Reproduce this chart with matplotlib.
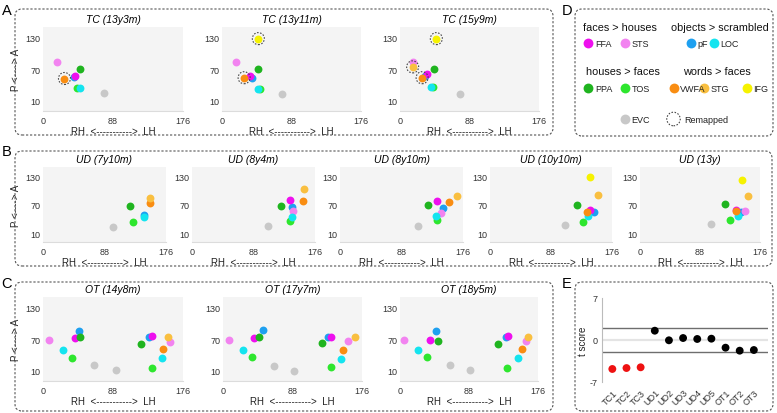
import matplotlib
matplotlib.use("Agg")
import matplotlib.pyplot as plt
from matplotlib.patches import FancyBboxPatch
from matplotlib.transforms import IdentityTransform

plt.rcParams['font.family'] = ['Liberation Sans', 'DejaVu Sans']

W, H = 777, 414

# ---------------- data ----------------
COLORS = {
    "FFA": "#ee10ee", "STS": "#f283f0", "pF": "#1ea0f0", "LOC": "#14e4ef",
    "PPA": "#1fb41f", "TOS": "#2ee62e", "VWFA": "#f98d12", "STG": "#f9bf40",
    "IFG": "#f6f200", "EVC": "#c8c8c8",
}
DRAW_ORDER = ["EVC", "pF", "FFA", "STS", "PPA", "TOS", "LOC", "VWFA", "STG", "IFG"]

# Panel A (TC)
tc_titles = ["TC (13y3m)", "TC (13y11m)", "TC (15y9m)"]
tc1_roi = ["STS", "PPA", "FFA", "pF", "VWFA", "TOS", "LOC", "EVC"]
tc1_x = [17, 46, 40, 39, 27, 43, 47, 77]
tc1_y = [84, 70, 58, 55.5, 52.5, 34, 35, 24.5]
tc1_remap = ["VWFA"]
tc2_roi = ["IFG", "STS", "PPA", "FFA", "pF", "VWFA", "TOS", "LOC", "EVC"]
tc2_x = [46, 18, 45.5, 36, 38.5, 28, 47.5, 45.5, 76]
tc2_y = [128, 83, 70.5, 56.5, 54, 54, 32.5, 32, 22.5]
tc2_remap = ["IFG", "VWFA"]
tc3_roi = ["IFG", "STS", "STG", "PPA", "FFA", "pF", "VWFA", "TOS", "LOC", "EVC"]
tc3_x = [46, 16, 16, 43, 34, 32, 28, 41.5, 39, 76]
tc3_y = [128, 83, 74.5, 71, 60.5, 57, 54, 35.5, 35.5, 23]
tc3_remap = ["IFG", "STG", "VWFA"]

# Panel B (UD)
ud_titles = ["UD (7y10m)", "UD (8y4m)", "UD (8y10m)", "UD (10y10m)", "UD (13y)"]
ud1_roi = ["STG", "VWFA", "PPA", "pF", "LOC", "TOS", "EVC"]
ud1_x = [153, 153.5, 124.5, 144.5, 144.5, 129, 99.5]
ud1_y = [85, 74.5, 66.5, 47.5, 43, 32.5, 23]
ud2_roi = ["STG", "VWFA", "FFA", "PPA", "pF", "STS", "LOC", "TOS", "EVC"]
ud2_x = [160.5, 159, 140.5, 127, 143.5, 145, 143.5, 140.5, 109]
ud2_y = [103, 77.5, 80, 68, 65, 56.5, 44.5, 36.5, 25]
ud3_roi = ["STG", "VWFA", "FFA", "PPA", "pF", "STS", "LOC", "TOS", "EVC"]
ud3_x = [167, 155.5, 139, 126, 148, 144.5, 137, 139, 111]
ud3_y = [89, 75.5, 77, 68.5, 62.5, 53.5, 46.5, 37, 25.5]
ud4_roi = ["IFG", "STG", "PPA", "FFA", "VWFA", "pF", "LOC", "TOS", "EVC"]
ud4_x = [144.5, 155.5, 125, 144.5, 140, 150, 141, 134, 108]
ud4_y = [128, 91.5, 70.5, 58.5, 55.5, 55, 46.5, 34, 26.5]
ud5_roi = ["IFG", "STG", "PPA", "FFA", "VWFA", "STS", "pF", "LOC", "TOS", "EVC"]
ud5_x = [150, 158.5, 124, 141, 140.5, 154, 148.5, 143, 132.5, 104.5]
ud5_y = [123.5, 88, 71, 59.5, 56.5, 57, 55, 45.5, 38.5, 28.5]

# Panel C (OT)
ot_titles = ["OT (14y8m)", "OT (17y7m)", "OT (18y5m)"]
ot1_roi = ["STS", "pF", "FFA", "PPA", "LOC", "TOS", "EVC",
           "EVC", "PPA", "pF", "FFA", "STG", "STS", "VWFA", "LOC", "TOS"]
ot1_x = [8, 45.5, 40, 46, 25.5, 37, 64, 91.5, 123, 133, 137, 157, 160, 151, 150, 137]
ot1_y = [69.5, 86, 71.5, 73.5, 49, 35, 20.5, 12.5, 60.5, 74, 75.5, 75, 65, 52, 35, 16.5]
ot2_roi = ["STS", "LOC", "FFA", "PPA", "pF", "TOS", "EVC",
           "EVC", "PPA", "pF", "FFA", "STS", "STG", "VWFA", "LOC", "TOS"]
ot2_x = [7, 25.5, 39.5, 46, 50.5, 36.5, 65, 90, 125, 133, 136.5, 158.5, 167.5, 151.5, 150, 136.5]
ot2_y = [69.5, 50.5, 71.5, 75, 87, 36.5, 19, 10, 62, 75, 75, 66.5, 73.5, 50.5, 33.5, 17]
ot3_roi = ["STS", "LOC", "TOS", "FFA", "PPA", "pF", "EVC",
           "EVC", "PPA", "pF", "FFA", "STS", "STG", "VWFA", "LOC", "TOS"]
ot3_x = [4.5, 22.5, 34.5, 38.5, 48, 46, 64, 89, 125.5, 135, 138, 160.5, 163, 155, 150, 137]
ot3_y = [69.5, 50, 35.5, 69.5, 67, 86, 20.5, 11, 60.5, 75, 75.5, 66.5, 74, 52, 35, 16.5]

# Panel E
e_labels = ["TC1", "TC2", "TC3", "UD1", "UD2", "UD3", "UD4", "UD5", "OT1", "OT2", "OT3"]
e_values = [-4.83, -4.67, -4.55, 1.55, -0.05, 0.33, 0.17, 0.22, -1.28, -1.78, -1.67]
e_colors = ["#ee1111"] * 3 + ["#000000"] * 8
e_threshold = 2.08

# Legend
legend_groups = [
    ("faces > houses", ["FFA", "STS"]),
    ("objects > scrambled", ["pF", "LOC"]),
    ("houses > faces", ["PPA", "TOS"]),
    ("words > faces", ["VWFA", "STG", "IFG"]),
]

# ---------------- figure ----------------
fig = plt.figure(figsize=(W / 100, H / 100), dpi=100)


def px_axes(x1, y1, x2, y2):
    return fig.add_axes([x1 / W, 1 - y2 / H, (x2 - x1) / W, (y2 - y1) / H])


def box(x1, y1, x2, y2):
    p = FancyBboxPatch((x1, H - y2), x2 - x1, y2 - y1,
                       boxstyle="round,pad=0,rounding_size=7",
                       transform=IdentityTransform(), fill=False,
                       edgecolor="#555555", linewidth=0.8,
                       linestyle=(0, (2, 1.6)))
    fig.add_artist(p)


def letter(x, y, s):
    fig.text(x / W, 1 - y / H, s, fontsize=10.5, ha="center", va="center")


RING_KW = dict(s=75, facecolors="none", edgecolors="#444444",
               linewidths=0.8, linestyles=(0, (1.4, 1.4)), zorder=5)


def scatter_panel(ax, title, roi, xs, ys, remap, ylabel):
    ax.set_facecolor("#f4f4f4")
    ax.set_xlim(0, 176)
    ax.set_ylim(-9, 150)
    ax.set_xticks([0, 88, 176])
    ax.set_yticks([10, 70, 130])
    for s in ["top", "right", "left"]:
        ax.spines[s].set_visible(False)
    ax.spines["bottom"].set_color("#dcdcdc")
    ax.spines["bottom"].set_linewidth(0.8)
    ax.tick_params(length=0, labelsize=6.5, colors="#333333")
    ax.tick_params(axis="x", pad=3.5)
    ax.tick_params(axis="y", pad=2)
    ax.set_title(title, fontsize=7.5, style="italic", pad=3.5)
    ax.set_xlabel("RH  <----------->  LH", fontsize=7, labelpad=0.5, color="#222222")
    if ylabel:
        ax.set_ylabel("P <----> A", fontsize=7, labelpad=3, color="#222222")
    for name in DRAW_ORDER:
        for r, x, y in zip(roi, xs, ys):
            if r == name:
                ax.scatter([x], [y], s=32, color=COLORS[r], linewidths=0, zorder=3)
    for r, x, y in zip(roi, xs, ys):
        if r in remap:
            ax.scatter([x], [y], **RING_KW)


# Boxes and letters
box(15, 10, 553, 136)
box(575, 10, 773, 137)
box(15, 152, 772, 267)
box(15, 283, 553, 412)
box(575, 283, 773, 412)
letter(7, 11, "A")
letter(567, 11, "D")
letter(7, 152, "B")
letter(7, 284, "C")
letter(567, 284, "E")

# Panel A
a_pos = [(43, 183), (222, 361), (400, 539)]
a_data = [(tc1_roi, tc1_x, tc1_y, tc1_remap), (tc2_roi, tc2_x, tc2_y, tc2_remap),
          (tc3_roi, tc3_x, tc3_y, tc3_remap)]
for i, ((x1, x2), d) in enumerate(zip(a_pos, a_data)):
    ax = px_axes(x1, 28, x2, 112)
    scatter_panel(ax, tc_titles[i], d[0], d[1], d[2], d[3], i == 0)

# Panel B
b_pos = [(43, 166), (192, 315), (340, 463), (490, 612), (640, 760)]
b_data = [(ud1_roi, ud1_x, ud1_y), (ud2_roi, ud2_x, ud2_y), (ud3_roi, ud3_x, ud3_y),
          (ud4_roi, ud4_x, ud4_y), (ud5_roi, ud5_x, ud5_y)]
for i, ((x1, x2), d) in enumerate(zip(b_pos, b_data)):
    ax = px_axes(x1, 168, x2, 243)
    scatter_panel(ax, ud_titles[i], d[0], d[1], d[2], [], i == 0)

# Panel C
c_pos = [(43, 183), (223, 362), (400, 538)]
c_data = [(ot1_roi, ot1_x, ot1_y), (ot2_roi, ot2_x, ot2_y), (ot3_roi, ot3_x, ot3_y)]
for i, ((x1, x2), d) in enumerate(zip(c_pos, c_data)):
    ax = px_axes(x1, 298, x2, 382)
    scatter_panel(ax, ot_titles[i], d[0], d[1], d[2], [], i == 0)

# Panel E
ax = px_axes(602, 299, 768, 383)
xs = list(range(1, len(e_labels) + 1))
ax.set_xlim(0.27, 12.0)
ax.set_ylim(-7, 7)
ax.axhline(0, color="#e4e4e4", lw=1.6, zorder=1)
ax.axhline(e_threshold, color="#6e6e6e", lw=1.0, zorder=1)
ax.axhline(-e_threshold, color="#6e6e6e", lw=1.0, zorder=1)
ax.scatter(xs, e_values, s=32, c=e_colors, linewidths=0, zorder=3)
ax.set_xticks(xs)
ax.set_xticklabels(e_labels, rotation=45, ha="right", rotation_mode="anchor")
ax.set_yticks([-7, 0, 7])
ax.set_yticklabels(["-7", "0", "7"])
for s in ["top", "right", "bottom"]:
    ax.spines[s].set_visible(False)
ax.spines["left"].set_color("#bbbbbb")
ax.spines["left"].set_linewidth(0.8)
ax.tick_params(length=0, labelsize=6.5, colors="#333333")
ax.tick_params(axis="x", pad=4)
ax.tick_params(axis="y", pad=3)
ax.set_ylabel("t score", fontsize=7, labelpad=1, color="#222222")
ax.set_facecolor("none")

# Panel D legend
lg = px_axes(575, 10, 773, 137)
lg.set_xlim(575, 773)
lg.set_ylim(137, 10)
lg.axis("off")
head_pos = [(583, 28), (671, 28), (586.5, 71.5), (683, 71.5)]
item_pos = [
    [(588.5, 43.5), (625, 43.5)],
    [(690.5, 43.5), (714, 43.5)],
    [(588.5, 88.5), (625, 88.5)],
    [(673.5, 88.5), (704, 88.5), (746.5, 88.5)],
]
for (head, members), (hx, hy), ipos in zip(legend_groups, head_pos, item_pos):
    lg.text(hx, hy, head, fontsize=7.8, ha="left", va="center", color="#111111")
    for m, (mx, my) in zip(members, ipos):
        lg.scatter([mx], [my], s=50, color=COLORS[m], linewidths=0)
        lg.text(mx + 6.5, my + 0.5, m, fontsize=6.5, ha="left", va="center", color="#222222")
lg.scatter([624.5], [120], s=50, color=COLORS["EVC"], linewidths=0)
lg.text(631, 120.5, "EVC", fontsize=6.5, ha="left", va="center", color="#222222")
lg.scatter([673.5], [120], s=95, facecolors="none", edgecolors="#444444",
           linewidths=0.8, linestyles=(0, (1.4, 1.4)))
lg.text(684, 120.5, "Remapped", fontsize=6.5, ha="left", va="center", color="#222222")

fig.savefig("out.png", dpi=100)
